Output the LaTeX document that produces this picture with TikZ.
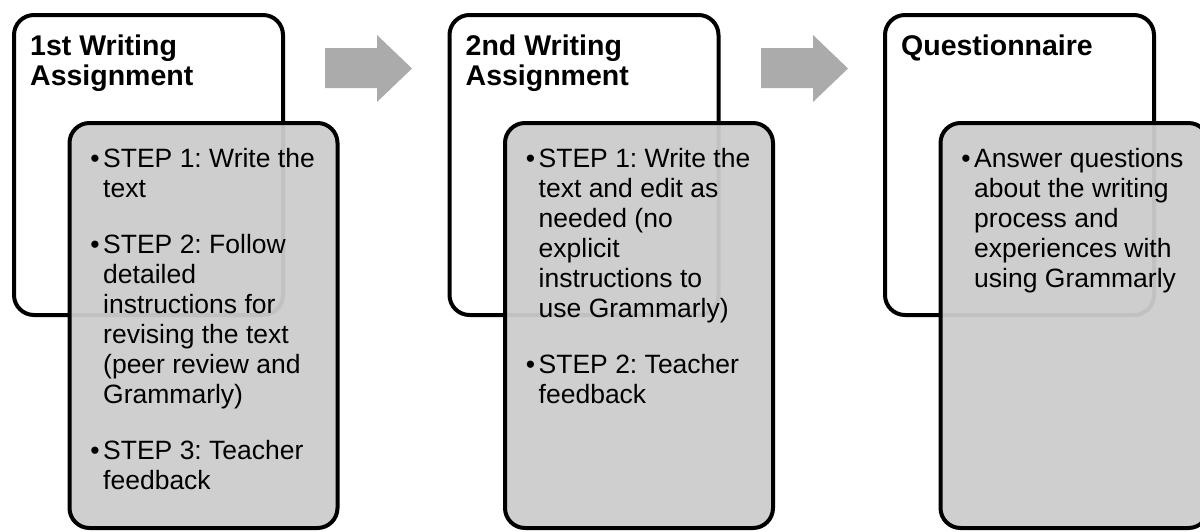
\documentclass[tikz,border=0pt]{standalone}
\usepackage{fontspec}
\setmainfont{Liberation Sans}
\definecolor{boxgray}{RGB}{204,204,204}
\definecolor{arrowgray}{RGB}{171,171,171}
\newcommand\mybullet{\leavevmode\llap{•\hspace{3.5pt}}}
\begin{document}
\begin{tikzpicture}[x=1pt,y=-1pt,
  outerbox/.style={draw=black, line width=4pt, rounded corners=20pt, fill=white},
  innerbox/.style={draw=black, line width=4pt, rounded corners=20pt, fill=boxgray, fill opacity=0.95},
  flowarrow/.style={fill=arrowgray, draw=none},
  titletext/.style={anchor=base west, inner sep=0pt, font=\bfseries\fontsize{28.5}{30}\selectfont},
  bodytext/.style={anchor=base west, inner sep=0pt, font=\fontsize{26.5}{30}\selectfont}]
\useasboundingbox (0,0) rectangle (1200,531);
\clip (0,0) rectangle (1200,531);
% group 1
\draw[outerbox] (14,15) rectangle (283,315);
\draw[innerbox] (69.5,123) rectangle (337.5,528);
\node[titletext] (t1) at (30,55) {\parbox[t]{250pt}{1st Writing\\Assignment}};
\node[bodytext] (b1) at (103,167) {\parbox[t]{260pt}{\raggedright\frenchspacing\parskip=26pt
\mybullet STEP 1: Write the\\text\par
\mybullet STEP 2: Follow\\detailed\\instructions for\\revising the text\\(peer review and\\Grammarly)\par
\mybullet STEP 3: Teacher\\feedback}};
% arrow 1
\fill[flowarrow] (325,48) -- (377,48) -- (377,35) -- (412,68.5) -- (377,102) -- (377,88) -- (325,88) -- cycle;
% group 2
\draw[outerbox] (449.5,15) rectangle (718.5,315);
\draw[innerbox] (505,123) rectangle (773,528);
\node[titletext] (t2) at (465.5,55) {\parbox[t]{250pt}{2nd Writing\\Assignment}};
\node[bodytext] (b2) at (538.5,167) {\parbox[t]{260pt}{\raggedright\frenchspacing\parskip=26pt
\mybullet STEP 1: Write the\\text and edit as\\needed (no\\explicit\\instructions to\\use Grammarly)\par
\mybullet STEP 2: Teacher\\feedback}};
% arrow 2
\fill[flowarrow] (761,48) -- (813,48) -- (813,35) -- (848,68.5) -- (813,102) -- (813,88) -- (761,88) -- cycle;
% group 3
\draw[outerbox] (885,15) rectangle (1154,315);
\draw[innerbox] (940.5,123) rectangle (1208.5,528);
\node[titletext] (t3) at (901,55) {\parbox[t]{250pt}{Questionnaire}};
\node[bodytext] (b3) at (974,167) {\parbox[t]{260pt}{\raggedright\frenchspacing\parskip=26pt
\mybullet Answer questions\\about the writing\\process and\\experiences with\\using Grammarly}};
\end{tikzpicture}
\end{document}
